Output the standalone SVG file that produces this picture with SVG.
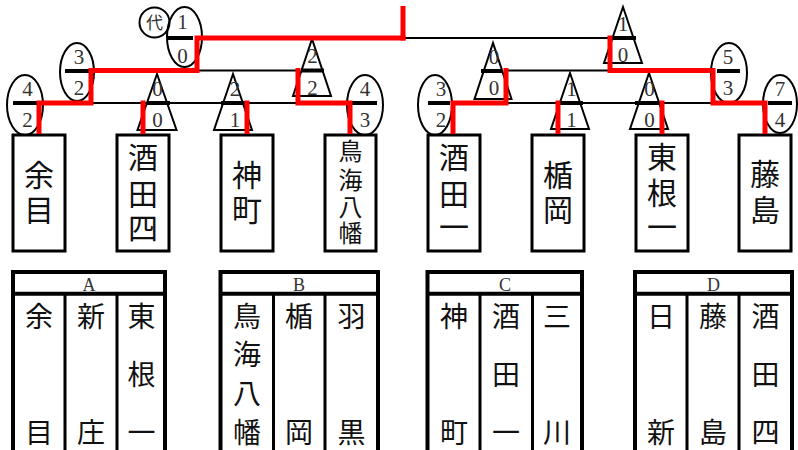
<svg xmlns="http://www.w3.org/2000/svg" width="798" height="450" viewBox="0 0 798 450">
<style>
.ln{stroke:#000;stroke-width:2;fill:none}
.win{stroke:#f00;stroke-width:5;fill:none;stroke-linejoin:miter;stroke-linecap:butt}
.mk{stroke:#000;stroke-width:2;fill:none}
.dv{stroke:#000;stroke-width:4}
.num{font-family:"Liberation Serif",serif;font-size:21px;fill:#333;text-anchor:middle}
.box{fill:#fff;stroke:#000;stroke-width:3}
.bt{font-family:"Noto Sans CJK JP",sans-serif;font-size:30px;fill:#111;text-anchor:middle}
.bs{font-family:"Noto Sans CJK JP",sans-serif;font-size:24px;fill:#111;text-anchor:middle}
.ct{font-family:"Noto Sans CJK JP",sans-serif;font-size:28px;fill:#111;text-anchor:middle}
.hd{font-family:"Liberation Serif",serif;font-size:18px;fill:#333;text-anchor:middle}
.ob{stroke:#000;stroke-width:4;fill:none}
.id{stroke:#000;stroke-width:3;fill:none}
</style>
<rect width="798" height="450" fill="#fff"/>

<!-- entry boxes -->
<g id="team-amarume"><rect class="box" x="13" y="135" width="52" height="116"/><text class="bt" x="39" y="186.4">余</text><text class="bt" x="39" y="221.4">目</text></g>
<g id="team-sakata4"><rect class="box" x="117" y="135" width="52" height="116"/><text class="bt" x="143" y="167.9">酒</text><text class="bt" x="143" y="205.4">田</text><text class="bt" x="143" y="239.4">四</text></g>
<g id="team-jinmachi"><rect class="box" x="221" y="135" width="52" height="116"/><text class="bt" x="247" y="186.4">神</text><text class="bt" x="247" y="221.4">町</text></g>
<g id="team-chokaiyawata"><rect class="box" x="325" y="135" width="51" height="116"/><text class="bs" x="350.5" y="160.1">鳥</text><text class="bs" x="350.5" y="189.1">海</text><text class="bs" x="350.5" y="216.1">八</text><text class="bs" x="350.5" y="242.1">幡</text></g>
<g id="team-sakata1"><rect class="box" x="428" y="135" width="52" height="116"/><text class="bt" x="454" y="167.9">酒</text><text class="bt" x="454" y="205.4">田</text><text class="bt" x="454" y="238.4">一</text></g>
<g id="team-tateoka"><rect class="box" x="532" y="135" width="52" height="116"/><text class="bt" x="558" y="186.4">楯</text><text class="bt" x="558" y="221.4">岡</text></g>
<g id="team-higashine1"><rect class="box" x="636" y="135" width="52" height="116"/><text class="bt" x="662" y="167.9">東</text><text class="bt" x="662" y="203.9">根</text><text class="bt" x="662" y="238.4">一</text></g>
<g id="team-fujishima"><rect class="box" x="739" y="135" width="52" height="116"/><text class="bt" x="765" y="185.4">藤</text><text class="bt" x="765" y="221.4">島</text></g>

<!-- score markers -->
<g id="score-l1a"><ellipse class="mk" cx="25" cy="105" rx="18" ry="30"/><line class="dv" x1="13" y1="103" x2="37" y2="103"/><text class="num" x="27.5" y="96">4</text><text class="num" x="27.5" y="126.5">2</text></g>
<g id="score-l1b"><polygon class="mk" points="157,74 137.5,130 176.5,130"/><line class="dv" x1="147" y1="103" x2="170" y2="103"/><text class="num" x="157.5" y="95.5">0</text><text class="num" x="157.5" y="126.5">0</text></g>
<g id="score-l1c"><polygon class="mk" points="233,74 214,130 252,130"/><line class="dv" x1="221" y1="103" x2="248" y2="103"/><text class="num" x="235" y="95.5">2</text><text class="num" x="235" y="126.5">1</text></g>
<g id="score-l1d"><ellipse class="mk" cx="365" cy="105" rx="18" ry="30"/><line class="dv" x1="352" y1="103" x2="377" y2="103"/><text class="num" x="365" y="96">4</text><text class="num" x="365" y="126.5">3</text></g>
<g id="score-l2a"><ellipse class="mk" cx="77" cy="72" rx="17" ry="29"/><line class="dv" x1="65" y1="71" x2="90" y2="71"/><text class="num" x="79" y="63.5">3</text><text class="num" x="79" y="94.5">2</text></g>
<g id="score-l2b"><polygon class="mk" points="312,39 293,96 331,96"/><line class="dv" x1="301" y1="70.5" x2="324" y2="70.5"/><text class="num" x="312.5" y="63">2</text><text class="num" x="312.5" y="94.5">2</text></g>
<g id="score-l3"><ellipse class="mk" cx="184.5" cy="37" rx="17.5" ry="30"/><line class="dv" x1="168" y1="38" x2="193" y2="38"/><text class="num" x="182.5" y="29">1</text><text class="num" x="182.5" y="62.5">0</text></g>
<g id="seed-dai"><circle class="mk" cx="154.5" cy="22.5" r="15"/><text x="154.5" y="29" style="font-family:'Noto Sans CJK JP',sans-serif;font-size:17px;fill:#333;text-anchor:middle">代</text></g>
<g id="score-r1a"><ellipse class="mk" cx="435" cy="105" rx="17" ry="30"/><line class="dv" x1="428" y1="103" x2="450" y2="103"/><text class="num" x="441" y="96">3</text><text class="num" x="441" y="126.5">2</text></g>
<g id="score-r1b"><polygon class="mk" points="570,73 551,129 589,129"/><line class="dv" x1="559" y1="103" x2="583" y2="103"/><text class="num" x="571.5" y="95.5">1</text><text class="num" x="571.5" y="126.5">1</text></g>
<g id="score-r1c"><polygon class="mk" points="649,73 630,129 668,129"/><line class="dv" x1="635" y1="103" x2="660" y2="103"/><text class="num" x="649.5" y="95.5">0</text><text class="num" x="649.5" y="126.5">0</text></g>
<g id="score-r1d"><ellipse class="mk" cx="780" cy="104" rx="17" ry="29"/><line class="dv" x1="768" y1="103" x2="792" y2="103"/><text class="num" x="780" y="96">7</text><text class="num" x="780" y="126.5">4</text></g>
<g id="score-r2a"><polygon class="mk" points="493,43 474.5,99 511.5,99"/><line class="dv" x1="481" y1="71" x2="502" y2="71"/><text class="num" x="494" y="63.5">0</text><text class="num" x="494" y="94.5">0</text></g>
<g id="score-r2b"><ellipse class="mk" cx="729" cy="73" rx="18" ry="30"/><line class="dv" x1="717" y1="71" x2="740" y2="71"/><text class="num" x="728" y="63.5">5</text><text class="num" x="728" y="94.5">3</text></g>
<g id="score-r3"><polygon class="mk" points="623,7 604,63 642,63"/><line class="dv" x1="613" y1="38" x2="636" y2="38"/><text class="num" x="623" y="30.5">1</text><text class="num" x="623" y="61.5">0</text></g>

<!-- connectors -->
<g id="connectors">
<line class="ln" x1="39" y1="103" x2="350" y2="103"/>
<line class="ln" x1="453" y1="103" x2="765" y2="103"/>
<line class="ln" x1="91" y1="70.5" x2="298" y2="70.5"/>
<line class="ln" x1="506" y1="70.5" x2="713" y2="70.5"/>
<line class="ln" x1="197" y1="38" x2="610" y2="38"/>
<polyline class="win" points="39,134 39,103 91,103 91,70.5 197,70.5 197,38 405.5,38"/>
<line class="win" x1="403" y1="6" x2="403" y2="40.5"/>
<line class="win" x1="143" y1="134" x2="143" y2="100.5"/>
<line class="win" x1="247" y1="134" x2="247" y2="100.5"/>
<polyline class="win" points="350,134 350,103 298,103 298,68"/>
<polyline class="win" points="453,134 453,103 506,103 506,68"/>
<line class="win" x1="558" y1="134" x2="558" y2="100.5"/>
<line class="win" x1="662" y1="134" x2="662" y2="100.5"/>
<polyline class="win" points="765,134 765,103 713,103 713,70.5 610,70.5 610,35.5"/>
</g>

<!-- group tables -->
<g id="table-A">
<path class="ob" d="M13,270 V452 M165,270 V452 M11,272 H167 M11,293.7 H167"/>
<path class="id" d="M65,294 V452 M117,294 V452"/>
<text class="hd" x="89" y="291">A</text>
<text class="ct" x="39" y="326.6">余</text><text class="ct" x="39" y="442.6">目</text>
<text class="ct" x="91" y="326.6">新</text><text class="ct" x="91" y="442.6">庄</text>
<text class="ct" x="141.5" y="326.6">東</text><text class="ct" x="141.5" y="384.6">根</text><text class="ct" x="141.5" y="442.6">一</text>
</g>
<g id="table-B">
<path class="ob" d="M220.5,270 V452 M378,270 V452 M218.5,272 H380 M218.5,293.7 H380"/>
<path class="id" d="M273.5,294 V452 M325,294 V452"/>
<text class="hd" x="299" y="291">B</text>
<text class="ct" x="247" y="326.6">鳥</text><text class="ct" x="247" y="365.3">海</text><text class="ct" x="247" y="403.9">八</text><text class="ct" x="247" y="442.6">幡</text>
<text class="ct" x="299" y="326.6">楯</text><text class="ct" x="299" y="442.6">岡</text>
<text class="ct" x="351.5" y="326.6">羽</text><text class="ct" x="351.5" y="442.6">黒</text>
</g>
<g id="table-C">
<path class="ob" d="M427.5,270 V452 M582,270 V452 M425.5,272 H584 M425.5,293.7 H584"/>
<path class="id" d="M480,294 V452 M532.5,294 V452"/>
<text class="hd" x="505" y="291">C</text>
<text class="ct" x="454" y="326.6">神</text><text class="ct" x="454" y="442.6">町</text>
<text class="ct" x="506" y="326.6">酒</text><text class="ct" x="506" y="384.6">田</text><text class="ct" x="506" y="442.6">一</text>
<text class="ct" x="557" y="326.6">三</text><text class="ct" x="557" y="442.6">川</text>
</g>
<g id="table-D">
<path class="ob" d="M635,270 V452 M792,270 V452 M633,272 H794 M633,293.7 H794"/>
<path class="id" d="M687,294 V452 M739,294 V452"/>
<text class="hd" x="713.5" y="291">D</text>
<text class="ct" x="661" y="326.6">日</text><text class="ct" x="661" y="442.6">新</text>
<text class="ct" x="713" y="326.6">藤</text><text class="ct" x="713" y="442.6">島</text>
<text class="ct" x="765.5" y="326.6">酒</text><text class="ct" x="765.5" y="384.6">田</text><text class="ct" x="765.5" y="442.6">四</text>
</g>
</svg>
